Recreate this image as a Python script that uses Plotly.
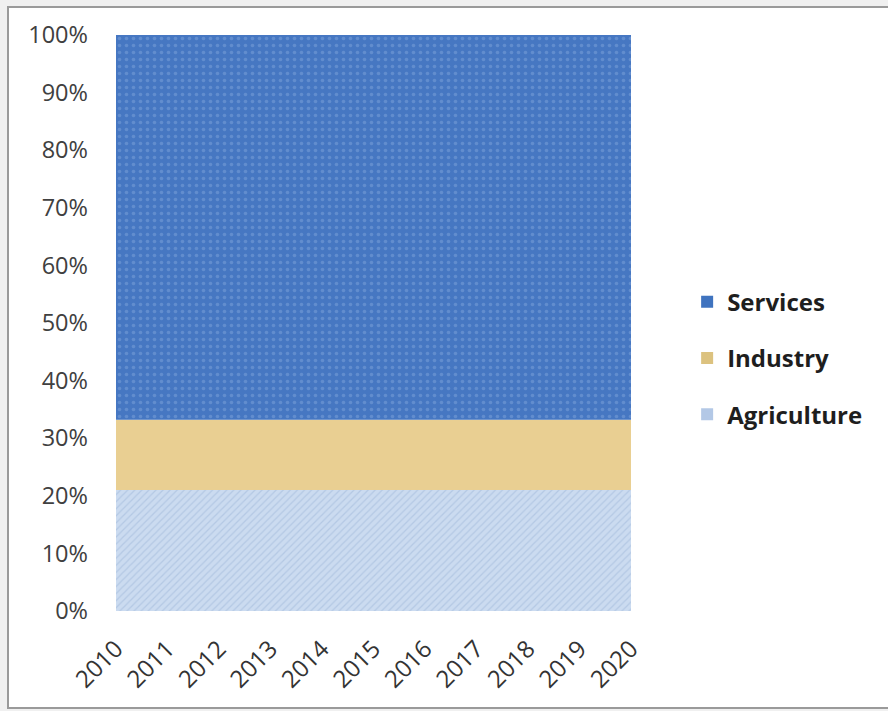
import plotly.graph_objects as go

years = [str(y) for y in range(2010, 2021)]
agriculture = [21, 21, 21, 21, 21, 21, 21, 21, 21, 21, 21]
industry = [12.2, 12.2, 12.2, 12.2, 12.2, 12.2, 12.2, 12.2, 12.2, 12.2, 12.2]
services = [66.8, 66.8, 66.8, 66.8, 66.8, 66.8, 66.8, 66.8, 66.8, 66.8, 66.8]

series = [
    ("Agriculture", agriculture, "#c8daf0",
     dict(shape="/", fgcolor="#9db5d8", bgcolor="#cbdbf0", size=5, solidity=0.25), "#b3c8e6"),
    ("Industry", industry, "#e9cf92", None, "#dcc27f"),
    ("Services", services, "#4a7bc4",
     dict(shape=".", fgcolor="#7ea3da", bgcolor="#4677c2", size=7, solidity=0.2), "#3f73bf"),
]

fig = go.Figure()
for i, (name, vals, color, pat, legcolor) in enumerate(series):
    kw = dict(fillpattern=pat) if pat else {}
    fig.add_trace(go.Scatter(
        x=years, y=vals, name=name, mode="none",
        stackgroup="one", groupnorm="percent" if i == 0 else None,
        fillcolor=color, showlegend=False, hoverinfo="x+y+name", **kw,
    ))

# legend entries with square symbols (Services on top)
for name, vals, color, pat, legcolor in reversed(series):
    fig.add_trace(go.Scatter(
        x=[None], y=[None], name=name, mode="markers",
        marker=dict(symbol="square", size=12, color=legcolor),
        legendgroup=name, showlegend=True,
    ))

fig.update_layout(
    width=888, height=711,
    margin=dict(l=116, r=257, t=35, b=100),
    paper_bgcolor="#f0f0f0", plot_bgcolor="white",
    font=dict(family="Open Sans", size=23, color="#404040"),
    showlegend=True,
    legend=dict(
        traceorder="grouped", x=1.109, y=0.439, xanchor="left", yanchor="middle",
        font=dict(size=24, color="#1e1e1e", family="Open Sans", weight="bold"),
        tracegroupgap=22, itemwidth=30,
        bgcolor="rgba(0,0,0,0)",
    ),
    xaxis=dict(
        type="category", range=[0, 10], showgrid=False, zeroline=False,
        tickangle=-45, ticks="", showline=False, ticklabelstandoff=18,
        tickfont=dict(size=24, color="#333333"),
    ),
    yaxis=dict(
        range=[0, 100], dtick=10, ticksuffix="%", showgrid=False, zeroline=False,
        showline=False, ticks="", ticklabelstandoff=27,
        tickfont=dict(size=23.5, color="#404040"),
    ),
    shapes=[dict(type="rect", xref="paper", yref="paper",
                 x0=-0.2097, x1=2.0, y0=-0.1684, y1=1.0486,
                 line=dict(color="#9a9a9a", width=2), fillcolor="white",
                 layer="below")],
)

fig.write_html("out.html")
